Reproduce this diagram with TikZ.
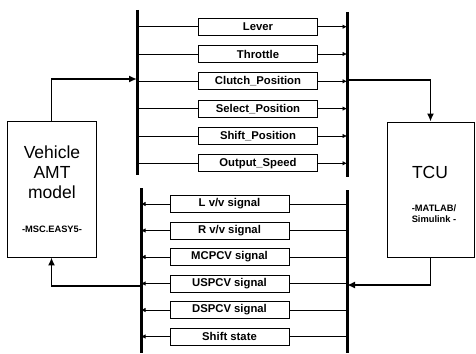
\documentclass[tikz,border=0pt]{standalone}
\usepackage{fontspec}
\setmainfont{Liberation Sans}
\usetikzlibrary{arrows.meta}
\begin{document}
\begin{tikzpicture}[x=1pt,y=-1pt,
  sig/.style={draw, line width=0.7pt, minimum width=119pt, minimum height=17pt, inner sep=0pt, font=\fontsize{11.3}{13}\selectfont\bfseries},
  blk/.style={draw, line width=0.9pt, inner sep=0pt},
  bus/.style={line width=3pt},
  wire/.style={line width=0.7pt},
  wirearr/.style={wire, -{Latex[length=4.5pt,width=4.5pt]}},
  main/.style={line width=1.8pt, -{Latex[length=8pt,width=7pt]}},
  big/.style={font=\fontsize{17.5}{20}\selectfont},
  small/.style={font=\fontsize{9.3}{11}\selectfont\bfseries},
]
\useasboundingbox (0,0) rectangle (476,353);

% bus lines
\coordinate (ltT) at (137,10);  \coordinate (ltB) at (137,175);
\coordinate (rtT) at (347,12);  \coordinate (rtB) at (347,177);
\coordinate (lbT) at (141,188); \coordinate (lbB) at (141,353);
\coordinate (rbT) at (347,190); \coordinate (rbB) at (347,353);
\draw[bus] (ltT) -- (ltB);
\draw[bus] (rtT) -- (rtB);
\draw[bus] (lbT) -- (lbB);
\draw[bus] (rbT) -- (rbB);

% top signals
\node[sig] (lever)    at (258,26.7)  {Lever};
\node[sig] (throttle) at (258,54)    {Throttle};
\node[sig] (clutch)   at (258,81.3)  {Clutch\_Position};
\node[sig] (select)   at (258,108.6) {Select\_Position};
\node[sig] (shift)    at (258,136)   {Shift\_Position};
\node[sig] (output)   at (258,163.3) {Output\_Speed};
\foreach \n in {lever,throttle,clutch,select,shift,output}{
  \draw[wire] (\n.west -| ltT) -- (\n.west);
  \draw[wirearr] (\n.east) -- (\n.east -| rtT);
}

% bottom signals
\node[sig] (lvv)   at (229.5,204)   {L v/v signal};
\node[sig] (rvv)   at (229.5,230.5) {R v/v signal};
\node[sig] (mcpcv) at (229.5,257)   {MCPCV signal};
\node[sig] (uspcv) at (229.5,283.5) {USPCV signal};
\node[sig] (dspcv) at (229.5,310)   {DSPCV signal};
\node[sig] (shst)  at (229.5,336.5) {Shift state};
\foreach \n in {lvv,rvv,mcpcv,uspcv,dspcv,shst}{
  \draw[wire] (\n.east) -- (\n.east -| rbT);
  \draw[wirearr] (\n.west) -- (\n.west -| lbT);
}

% blocks
\node[blk, minimum width=89pt, minimum height=136pt] (veh) at (51.5,189) {};
\node[big] (vehA) at (52,152) {Vehicle};
\node[big] (vehB) at (52,172) {AMT};
\node[big] (vehC) at (52,192) {model};
\node[small] (vehD) at (52,229) {-MSC.EASY5-};

\node[blk, minimum width=87pt, minimum height=135pt] (tcu) at (430.5,189.5) {};
\node[big] (tcuA) at (430,172) {TCU};
\node[small] (tcuB) at (434,208) {-MATLAB/};
\node[small] (tcuC) at (434,219) {Simulink -};

% main connectors
\coordinate (va) at (137,79);
\coordinate (ta) at (347,80);
\coordinate (tb) at (347,285);
\coordinate (vb) at (141,286);
\draw[main] (veh.north) |- (va);
\draw[main] (ta) -| (tcu.north);
\draw[main] (tcu.south) |- (tb);
\draw[main] (vb) -| (veh.south);
\end{tikzpicture}
\end{document}
